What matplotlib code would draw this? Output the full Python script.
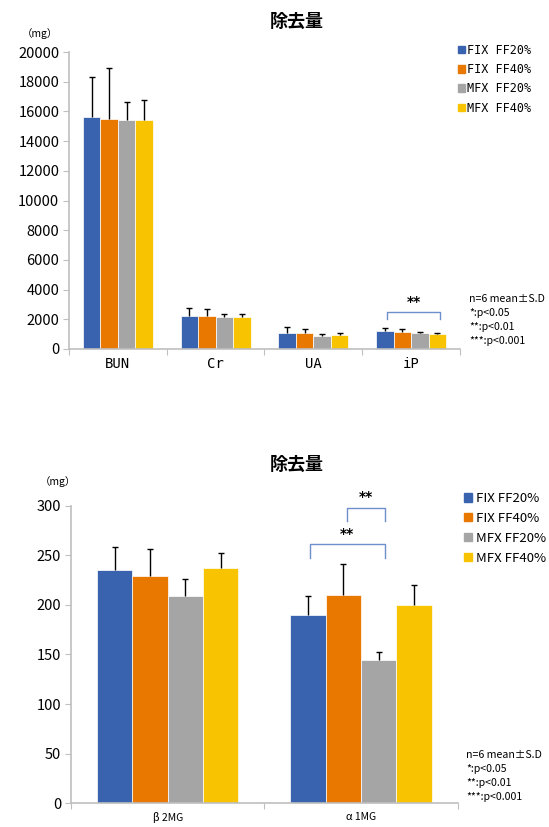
import numpy as np
import matplotlib
matplotlib.use('Agg')
import matplotlib.pyplot as plt
from matplotlib.patches import Patch

plt.rcParams['font.family'] = ['Noto Sans CJK JP', 'DejaVu Sans']

## removal amounts (mg), n=6, mean and S.D
series = ['FIX FF20%', 'FIX FF40%', 'MFX FF20%', 'MFX FF40%']
colors = ['#3A63AF', '#E87800', '#A5A5A5', '#F8C300']

small_cats = ['BUN', 'Cr', 'UA', 'iP']
small_mean = [[15600, 2200, 1100, 1230],
              [15500, 2200, 1080, 1160],
              [15400, 2150, 870, 1100],
              [15400, 2150, 950, 1030]]
small_sd = [[2700, 550, 350, 160],
            [3450, 500, 300, 160],
            [1250, 200, 150, 50],
            [1350, 200, 120, 70]]

large_cats = ['β 2MG', 'α 1MG']
large_mean = [[235, 189.5],
              [229, 209.5],
              [209, 144],
              [237, 199.5]]
large_sd = [[23, 19],
            [27, 32],
            [17, 9],
            [15, 21]]

stat_note = 'n=6 mean±S.D\n*:p<0.05\n**:p<0.01\n***:p<0.001'
axis_col = '#BFBFBF'
bracket_col = '#6E8FCC'


def bar_chart(ax, cats, mean, sd, width, ymax, ystep, catfont):
    """grouped bars with upper-only error bars, Excel-like axes"""
    n = len(cats)
    centers = np.arange(n) + 0.5
    pos = []
    for i in range(len(series)):
        x = centers + (i - 1.5) * width
        pos.append(x)
        ax.bar(x, mean[i], width, color=colors[i], edgecolor='white', linewidth=0.5, zorder=2)
        eb = ax.errorbar(x, mean[i], yerr=[np.zeros(n), sd[i]], fmt='none', ecolor='black',
                         elinewidth=1, capsize=2, capthick=1, zorder=3)
        eb[1][0].set_visible(False)  # no cap on the bar top
    ax.set_xlim(0, n)
    ax.set_ylim(0, ymax)
    ax.set_yticks(np.arange(0, ymax + 1, ystep))
    ax.set_xticks(np.arange(n + 1))
    ax.set_xticklabels([])
    ax.set_xticks(centers, minor=True)
    ax.set_xticklabels(cats, minor=True, **catfont)
    ax.tick_params(axis='x', which='major', length=4, color=axis_col, direction='out')
    ax.tick_params(axis='x', which='minor', length=0, pad=6)
    ax.tick_params(axis='y', length=4, color=axis_col, labelsize=10.5, pad=3)
    for s in ['top', 'right']:
        ax.spines[s].set_visible(False)
    for s in ['left', 'bottom']:
        ax.spines[s].set_color(axis_col)
        ax.spines[s].set_linewidth(1.2)
    return pos


def bracket(ax, x1, x2, ylow, yhigh, ystar):
    ax.plot([x1, x1, x2, x2], [ylow, yhigh, yhigh, ylow], color=bracket_col, lw=1, clip_on=False)
    ax.text((x1 + x2) / 2, ystar, '**', ha='center', va='center', fontsize=10,
            fontweight='bold', family='DejaVu Sans', clip_on=False)


fig = plt.figure(figsize=(5.49, 8.27), dpi=100)

# upper chart: small solutes
ax1 = fig.add_axes([0.1257, 0.578, 0.712, 0.359])
pos1 = bar_chart(ax1, small_cats, small_mean, small_sd, 0.179, 20000, 2000,
                 dict(family='DejaVu Sans Mono', fontsize=10))
bracket(ax1, pos1[0][3] + 0.02, pos1[3][3] + 0.03, 2020, 2490, 3150)
fig.text(0.54, 0.974, '除去量', ha='center', va='center', fontsize=13, fontweight='bold')
fig.text(0.073, 0.959, '（mg）', ha='center', va='center', fontsize=7.5)
handles = [Patch(color=c, label=s) for c, s in zip(colors, series)]
fig.legend(handles=handles, loc='upper left', bbox_to_anchor=(0.835, 0.947), frameon=False,
           prop={'family': 'DejaVu Sans Mono', 'size': 8.5}, handlelength=0.6, handleheight=0.6,
           handletextpad=0.15, labelspacing=0.53, borderpad=0, borderaxespad=0)
fig.text(0.855, 0.6125, stat_note, ha='left', va='center', fontsize=7.6, linespacing=1.5)

# lower chart: low molecular weight proteins
ax2 = fig.add_axes([0.1293, 0.0287, 0.7044, 0.3598])
pos2 = bar_chart(ax2, large_cats, large_mean, large_sd, 0.183, 300, 50,
                 dict(fontsize=7.5))
bracket(ax2, pos2[0][1] + 0.01, pos2[2][1] + 0.03, 247, 261, 271)
bracket(ax2, pos2[1][1] + 0.02, pos2[2][1] + 0.035, 285, 297.5, 308.5)
fig.text(0.54, 0.438, '除去量', ha='center', va='center', fontsize=13, fontweight='bold')
fig.text(0.105, 0.4175, '（mg）', ha='center', va='center', fontsize=7.5)
fig.legend(handles=handles, loc='upper left', bbox_to_anchor=(0.845, 0.405), frameon=False,
           prop={'size': 9.5}, handlelength=0.6, handleheight=0.6,
           handletextpad=0.3, labelspacing=0.52, borderpad=0, borderaxespad=0)
fig.text(0.849, 0.0617, stat_note, ha='left', va='center', fontsize=7.6, linespacing=1.5)

fig.savefig('out.png', dpi=100, facecolor='white')
